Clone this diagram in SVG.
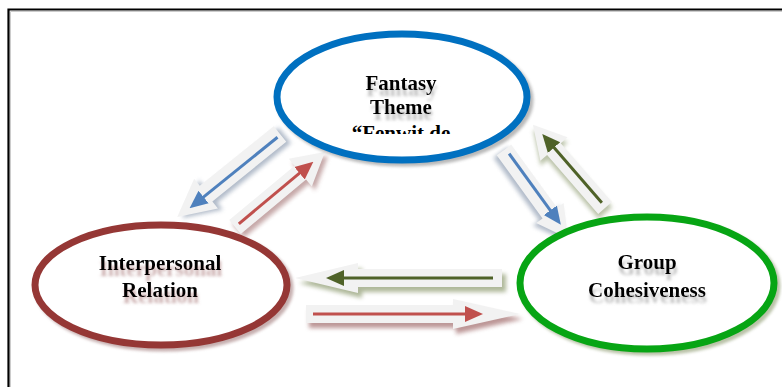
<svg xmlns="http://www.w3.org/2000/svg" width="782" height="387" viewBox="0 0 782 387">
<defs>
<style>
.lbl{font-family:"Liberation Serif","Times New Roman",serif;font-weight:bold;font-size:21px;text-anchor:middle;fill:#000}
.blk{fill:#f2f2f2}
.ln{stroke-width:3;fill:none}
</style>
<filter id="blur" x="-20%" y="-20%" width="140%" height="140%"><feGaussianBlur stdDeviation="1.5"/></filter>
<filter id="blur2" x="-20%" y="-20%" width="140%" height="140%"><feGaussianBlur stdDeviation="2"/></filter>
<filter id="tsh" x="-10%" y="-30%" width="120%" height="180%">
  <feGaussianBlur in="SourceAlpha" stdDeviation="1.4" result="b"/>
  <feOffset in="b" dx="1" dy="6" result="o"/>
  <feFlood flood-color="#8a8a8a" flood-opacity="0.55"/>
  <feComposite in2="o" operator="in" result="s"/>
  <feMerge><feMergeNode in="s"/><feMergeNode in="SourceGraphic"/></feMerge>
</filter>
<filter id="tshr" x="-10%" y="-30%" width="120%" height="180%">
  <feGaussianBlur in="SourceAlpha" stdDeviation="1.4" result="b"/>
  <feOffset in="b" dx="1" dy="6" result="o"/>
  <feFlood flood-color="#a06a6a" flood-opacity="0.55"/>
  <feComposite in2="o" operator="in" result="s"/>
  <feMerge><feMergeNode in="s"/><feMergeNode in="SourceGraphic"/></feMerge>
</filter>
<marker id="mb" markerWidth="6" markerHeight="6" refX="3" refY="3" orient="auto" markerUnits="strokeWidth"><path d="M0,0.3 L6,3 L0,5.7 Z" fill="#4f81bd"/></marker>
<marker id="mr" markerWidth="6" markerHeight="6" refX="3" refY="3" orient="auto" markerUnits="strokeWidth"><path d="M0,0.3 L6,3 L0,5.7 Z" fill="#c0504d"/></marker>
<marker id="mg" markerWidth="6" markerHeight="6" refX="3" refY="3" orient="auto" markerUnits="strokeWidth"><path d="M0,0.3 L6,3 L0,5.7 Z" fill="#4f6228"/></marker>
<clipPath id="clipT"><rect x="300" y="60" width="200" height="74"/></clipPath>
</defs>
<rect width="782" height="387" fill="#fff"/>
<!-- frame -->
<path d="M8.5,387 L8.5,9.5 L782,9.5" fill="none" stroke="#000" stroke-width="2.2"/>
<path d="M10.5,387 L10.5,11.5 L782,11.5" fill="none" stroke="#ccc" stroke-width="1"/>

<g id="connectors">
  <g transform="translate(280,134) rotate(141.1)">
    <path d="M0,-10 L95,-10 L95,-19 L132,0 L95,19 L95,10 L0,10 Z" fill="#7f8fa6" opacity="0.6" filter="url(#blur2)" transform="translate(-3,-4)"/>
    <path class="blk" d="M0,-10 L95,-10 L95,-19 L132,0 L95,19 L95,10 L0,10 Z"/>
    <line class="ln" x1="4" y1="-1" x2="108" y2="-1" stroke="#4f81bd" marker-end="url(#mb)"/>
  </g>
  <g transform="translate(235,227) rotate(-39.8)">
    <path d="M0,-9 L85,-9 L85,-18 L117,0 L85,18 L85,9 L0,9 Z" fill="#a07070" opacity="0.6" filter="url(#blur2)" transform="translate(0,5)"/>
    <path class="blk" d="M0,-9 L85,-9 L85,-18 L117,0 L85,18 L85,9 L0,9 Z"/>
    <line class="ln" x1="5" y1="0" x2="93" y2="0" stroke="#c0504d" marker-end="url(#mr)" stroke-width="2.5"/>
  </g>
  <g transform="translate(504,150) rotate(54)">
    <path d="M0,-9 L78,-9 L78,-17 L109,0 L78,17 L78,9 L0,9 Z" fill="#7f8fa6" opacity="0.6" filter="url(#blur2)" transform="translate(0,4)"/>
    <path class="blk" d="M0,-9 L78,-9 L78,-17 L109,0 L78,17 L78,9 L0,9 Z"/>
    <line class="ln" x1="6" y1="-2" x2="85" y2="-2" stroke="#4f81bd" marker-end="url(#mb)"/>
  </g>
  <g transform="translate(605,208) rotate(-130.9)">
    <path d="M0,-9 L78,-9 L78,-18 L110,0 L78,18 L78,9 L0,9 Z" fill="#8c9a6e" opacity="0.6" filter="url(#blur2)" transform="translate(-4,-3)"/>
    <path class="blk" d="M0,-9 L78,-9 L78,-18 L110,0 L78,18 L78,9 L0,9 Z"/>
    <line class="ln" x1="6" y1="1" x2="88" y2="1" stroke="#4f6228" marker-end="url(#mg)"/>
  </g>
  <g transform="translate(502,278) rotate(180)">
    <path d="M0,-9 L144,-9 L144,-15 L207,0 L144,15 L144,9 L0,9 Z" fill="#8c9a6e" opacity="0.7" filter="url(#blur2)" transform="translate(-4,-5)"/>
    <path class="blk" d="M0,-9 L144,-9 L144,-15 L207,0 L144,15 L144,9 L0,9 Z"/>
    <line class="ln" x1="9" y1="0" x2="167" y2="0" stroke="#4f6228" marker-end="url(#mg)"/>
  </g>
  <g transform="translate(306,314)">
    <path d="M0,-9 L147,-9 L147,-15 L214,0 L147,15 L147,9 L0,9 Z" fill="#a06a6a" opacity="0.7" filter="url(#blur2)" transform="translate(3,5)"/>
    <path class="blk" d="M0,-9 L147,-9 L147,-15 L214,0 L147,15 L147,9 L0,9 Z"/>
    <line class="ln" x1="7" y1="0" x2="168" y2="0" stroke="#c0504d" marker-end="url(#mr)" stroke-width="2.5"/>
  </g>
</g>

<g id="fantasy">
  <ellipse cx="405" cy="100" rx="125" ry="63" fill="none" stroke="#8a8a8a" stroke-width="7" opacity="0.6" filter="url(#blur)"/>
  <ellipse cx="402" cy="97" rx="125" ry="63" fill="#fff" stroke="#0070c0" stroke-width="7"/>
  <g clip-path="url(#clipT)">
    <text class="lbl" x="401" y="90" filter="url(#tsh)">Fantasy</text>
    <text class="lbl" x="401" y="114" filter="url(#tsh)">Theme</text>
    <text class="lbl" x="401" y="140">“Fenwit de</text>
  </g>
</g>

<g id="interpersonal">
  <ellipse cx="164" cy="288" rx="126" ry="60" fill="none" stroke="#a07a7a" stroke-width="7" opacity="0.6" filter="url(#blur)"/>
  <ellipse cx="161" cy="285" rx="126" ry="60" fill="#fff" stroke="#953735" stroke-width="7"/>
  <text class="lbl" x="160" y="270" filter="url(#tshr)">Interpersonal</text>
  <text class="lbl" x="160" y="297" filter="url(#tshr)">Relation</text>
</g>

<g id="group">
  <ellipse cx="650" cy="286" rx="127" ry="66" fill="none" stroke="#8c9a6e" stroke-width="7" opacity="0.6" filter="url(#blur)"/>
  <ellipse cx="647" cy="283" rx="127" ry="66" fill="#fff" stroke="#07a514" stroke-width="7"/>
  <text class="lbl" x="647" y="269" filter="url(#tsh)">Group</text>
  <text class="lbl" x="647" y="297" filter="url(#tsh)">Cohesiveness</text>
</g>
</svg>
